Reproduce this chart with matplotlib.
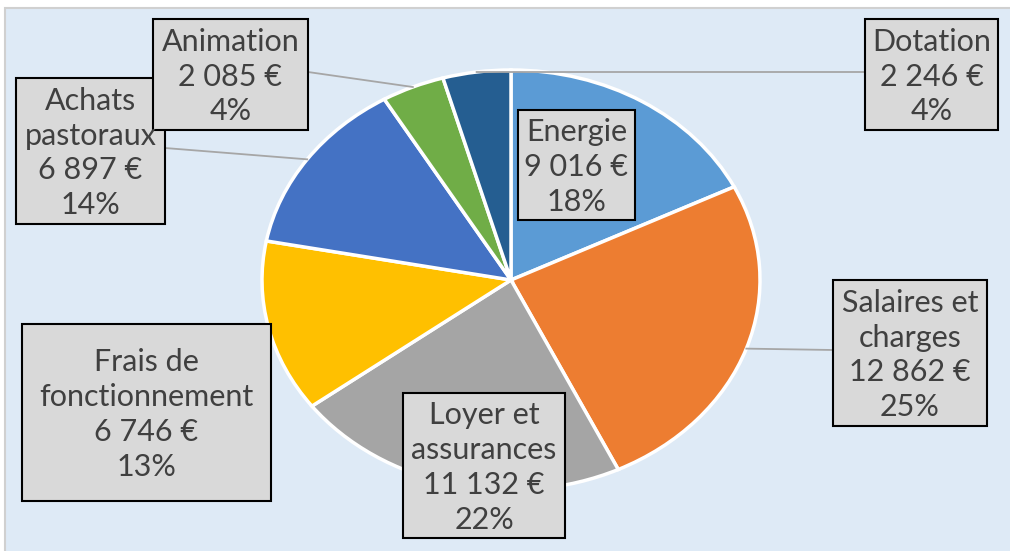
import numpy as np
import matplotlib.pyplot as plt
from matplotlib.patches import Rectangle

# data
labels = ["Energie", "Salaires et\ncharges", "Loyer et\nassurances", "Frais de\nfonctionnement",
          "Achats\npastoraux", "Animation", "Dotation"]
values = [9016, 12862, 11132, 6746, 6897, 2085, 2246]
colors = ["#5B9BD5", "#ED7D31", "#A5A5A5", "#FFC000", "#4472C4", "#70AD47", "#255E91"]

# label box layout in pixels (x0, y0, x1, y1) and y where the leader line meets the box
boxes = [(518, 110, 635, 220), (833, 280, 987, 426), (403, 393, 565, 538),
         (22, 324, 271, 501), (16, 78, 165, 224), (153, 19, 308, 130), (865, 19, 998, 130)]
leader_y = [None, 350, None, None, 148, 72, 72]

W, H = 1010, 551
cx, cy, rx, ry = 511, 280, 249, 210

fig = plt.figure(figsize=(W / 100, H / 100), dpi=100)
fig.patch.set_facecolor("white")

# background panel
bg = fig.add_axes([0, 0, 1, 1])
bg.set_xlim(0, W)
bg.set_ylim(H, 0)
bg.axis("off")
bg.add_patch(Rectangle((5, 8), W, H, facecolor="#DEEAF6", edgecolor="#D0D0D0", lw=1.5))

# pie, stretched into an ellipse
ax = fig.add_axes([(cx - rx) / W, 1 - (cy + ry) / H, 2 * rx / W, 2 * ry / H])
wedges, _ = ax.pie(values, colors=colors, startangle=90, counterclock=False,
                   wedgeprops=dict(edgecolor="white", linewidth=2.5))
ax.set_aspect("auto")
ax.set_xlim(-1, 1)
ax.set_ylim(-1, 1)
ax.axis("off")

# overlay for boxes and leader lines
ov = fig.add_axes([0, 0, 1, 1])
ov.set_xlim(0, W)
ov.set_ylim(H, 0)
ov.axis("off")

total = sum(values)
for w, lab, v, box, ly in zip(wedges, labels, values, boxes, leader_y):
    x0, y0, x1, y1 = box
    if ly is not None:
        ang = np.deg2rad((w.theta1 + w.theta2) / 2)
        px = cx + rx * np.cos(ang)
        py = cy - ry * np.sin(ang)
        bx = x1 if (x0 + x1) / 2 < px else x0
        ov.plot([px, bx], [py, ly], color="#A6A6A6", lw=1.3, zorder=2)
    ov.add_patch(Rectangle((x0, y0), x1 - x0, y1 - y0, facecolor="#D9D9D9",
                           edgecolor="black", lw=1.5, zorder=3))
    pct = round(v / total * 100)
    amount = f"{v:,}".replace(",", " ") + " €"
    txt = f"{lab}\n{amount}\n{pct}%"
    ov.text((x0 + x1) / 2, (y0 + y1) / 2 + 2, txt, ha="center", va="center",
            fontsize=22, color="#404040", family="Lato", linespacing=1.3, zorder=4)

fig.savefig("out.png", dpi=100)
